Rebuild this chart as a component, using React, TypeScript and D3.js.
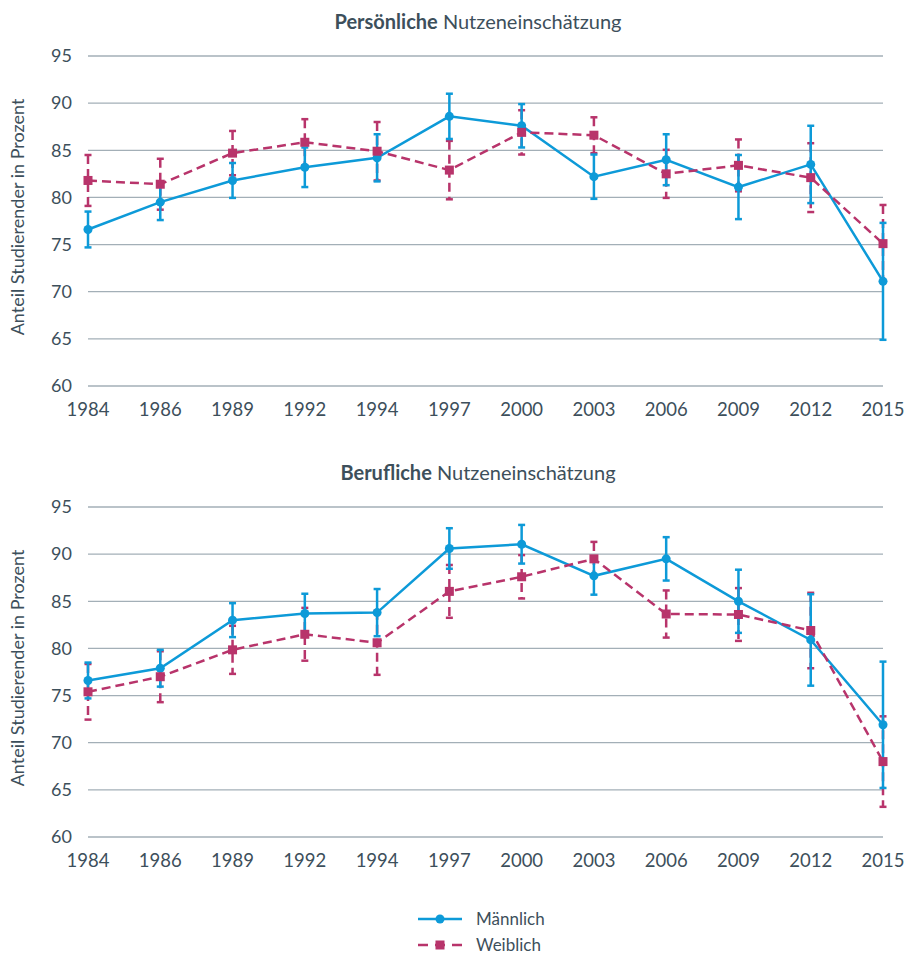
import React, { useEffect } from 'react'
import * as d3 from 'd3'

const years = ['1984', '1986', '1989', '1992', '1994', '1997', '2000', '2003', '2006', '2009', '2012', '2015']
const yTicks = [60, 65, 70, 75, 80, 85, 90, 95]

// Persönliche Nutzeneinschätzung
const persMale = [76.6, 79.5, 81.8, 83.2, 84.2, 88.6, 87.6, 82.2, 84.0, 81.1, 83.5, 71.1]
const persMaleErr = [1.9, 1.9, 1.85, 2.1, 2.5, 2.4, 2.3, 2.35, 2.7, 3.4, 4.1, 6.2]
const persFemale = [81.8, 81.4, 84.7, 85.85, 84.9, 82.9, 86.9, 86.6, 82.5, 83.4, 82.1, 75.1]
const persFemaleErr = [2.7, 2.7, 2.35, 2.45, 3.1, 3.1, 2.35, 1.9, 2.55, 2.75, 3.65, 4.1]

// Berufliche Nutzeneinschätzung
const berMale = [76.6, 77.9, 83.0, 83.7, 83.8, 90.6, 91.05, 87.7, 89.5, 85.0, 80.9, 71.9]
const berMaleErr = [1.9, 1.95, 1.8, 2.1, 2.5, 2.15, 2.05, 2.0, 2.3, 3.35, 4.85, 6.7]
const berFemale = [75.4, 77.0, 79.85, 81.5, 80.6, 86.05, 87.6, 89.5, 83.65, 83.6, 81.9, 68.0]
const berFemaleErr = [2.95, 2.7, 2.55, 2.8, 3.4, 2.8, 2.3, 1.8, 2.5, 2.8, 4.0, 4.8]

const BLUE = '#0d9ad8'
const RED = '#b8346b'
const TEXT = '#3d4f5b'
const GRID = '#a3afb7'
const FONT = 'Lato, "Noto Sans", sans-serif'
const DASH = '9,5'

const x = d3.scalePoint<string>().domain(years).range([88, 883])

type PanelProps = {
  top: number
  bold: string
  rest: string
  male: number[]
  maleErr: number[]
  female: number[]
  femaleErr: number[]
}

function Panel({ top, bold, rest, male, maleErr, female, femaleErr }: PanelProps) {
  const y = d3.scaleLinear().domain([60, 95]).range([top + 330, top])
  const line = d3
    .line<number>()
    .x((_, i) => x(years[i]) as number)
    .y((d) => y(d))

  const errBars = (vals: number[], errs: number[], color: string, dashed: boolean) =>
    vals.map((v, i) => {
      const cx = x(years[i]) as number
      const y1 = y(v + errs[i])
      const y2 = y(v - errs[i])
      return (
        <g key={i} stroke={color} strokeWidth={2.5}>
          <line x1={cx} x2={cx} y1={y1} y2={y2} strokeDasharray={dashed ? DASH : undefined} />
          <line x1={cx - 3.5} x2={cx + 3.5} y1={y1} y2={y1} />
          <line x1={cx - 3.5} x2={cx + 3.5} y1={y2} y2={y2} />
        </g>
      )
    })

  return (
    <g>
      <text x={478} y={top - 34} dy="0.35em" textAnchor="middle" fontFamily={FONT} fontSize={20} fill={TEXT}>
        <tspan fontWeight="bold">{bold}</tspan>
        <tspan> {rest}</tspan>
      </text>
      {yTicks.map((t) => (
        <g key={t}>
          <line x1={88} x2={883} y1={y(t)} y2={y(t)} stroke={GRID} strokeWidth={1.3} />
          <text x={72} y={y(t)} dy="0.35em" textAnchor="end" fontFamily={FONT} fontSize={18} fill={TEXT}>
            {t}
          </text>
        </g>
      ))}
      {years.map((yr) => (
        <text key={yr} x={x(yr)} y={top + 354} dy="0.35em" textAnchor="middle" fontFamily={FONT} fontSize={18.5} fill={TEXT}>
          {yr}
        </text>
      ))}
      <text
        transform={`translate(17.5,${top + 161}) rotate(-90)`}
        textAnchor="middle"
        dy="0.35em"
        fontFamily={FONT}
        fontSize={18}
        fill={TEXT}
      >
        Anteil Studierender in Prozent
      </text>
      {errBars(female, femaleErr, RED, true)}
      {errBars(male, maleErr, BLUE, false)}
      <path d={line(male) || ''} fill="none" stroke={BLUE} strokeWidth={2.5} />
      <path d={line(female) || ''} fill="none" stroke={RED} strokeWidth={2.5} strokeDasharray={DASH} />
      {male.map((v, i) => (
        <circle key={i} cx={x(years[i])} cy={y(v)} r={4.5} fill={BLUE} />
      ))}
      {female.map((v, i) => (
        <rect key={i} x={(x(years[i]) as number) - 4.5} y={y(v) - 4.5} width={9} height={9} fill={RED} />
      ))}
    </g>
  )
}

export default function App() {
  useEffect(() => {
    document.body.style.margin = '0'
  }, [])
  return (
    <svg width={904} height={955} style={{ display: 'block', background: '#fff' }}>
      <Panel top={56} bold="Persönliche" rest="Nutzeneinschätzung" male={persMale} maleErr={persMaleErr} female={persFemale} femaleErr={persFemaleErr} />
      <Panel top={507} bold="Berufliche" rest="Nutzeneinschätzung" male={berMale} maleErr={berMaleErr} female={berFemale} femaleErr={berFemaleErr} />
      <g fontFamily={FONT} fontSize={17} fill={TEXT}>
        <line x1={418} x2={462} y1={919} y2={919} stroke={BLUE} strokeWidth={2.5} />
        <circle cx={440} cy={919} r={4.5} fill={BLUE} />
        <text x={476} y={919} dy="0.35em">Männlich</text>
        <line x1={418} x2={462} y1={945} y2={945} stroke={RED} strokeWidth={2.5} strokeDasharray="10,7" />
        <rect x={435.5} y={940.5} width={9} height={9} fill={RED} />
        <text x={476} y={945} dy="0.35em">Weiblich</text>
      </g>
    </svg>
  )
}
